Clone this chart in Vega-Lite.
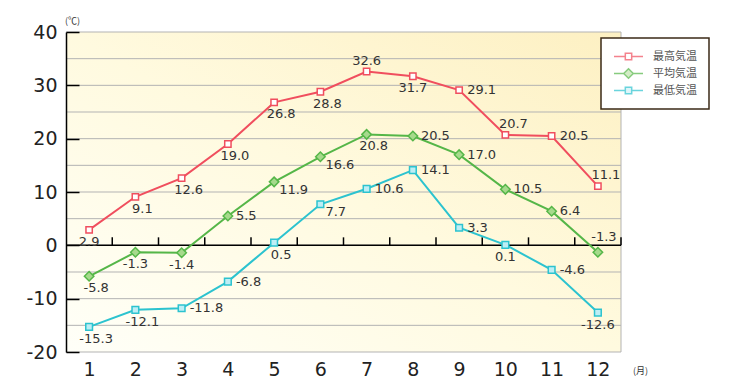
{
  "$schema": "https://vega.github.io/schema/vega-lite/v6.json",
  "width": 555,
  "height": 320,
  "autosize": {"type": "none"},
  "padding": {"left": 66, "top": 32, "right": 113, "bottom": 38},
  "background": "#ffffff",
  "config": {"view": {"stroke": null}, "legend": {"strokeWidth": 1.5}},
  "datasets": {
    "temps": [
      {"month": 1, "series": "最高気温", "temp": 2.9},
      {"month": 2, "series": "最高気温", "temp": 9.1},
      {"month": 3, "series": "最高気温", "temp": 12.6},
      {"month": 4, "series": "最高気温", "temp": 19.0},
      {"month": 5, "series": "最高気温", "temp": 26.8},
      {"month": 6, "series": "最高気温", "temp": 28.8},
      {"month": 7, "series": "最高気温", "temp": 32.6},
      {"month": 8, "series": "最高気温", "temp": 31.7},
      {"month": 9, "series": "最高気温", "temp": 29.1},
      {"month": 10, "series": "最高気温", "temp": 20.7},
      {"month": 11, "series": "最高気温", "temp": 20.5},
      {"month": 12, "series": "最高気温", "temp": 11.1},
      {"month": 1, "series": "平均気温", "temp": -5.8},
      {"month": 2, "series": "平均気温", "temp": -1.3},
      {"month": 3, "series": "平均気温", "temp": -1.4},
      {"month": 4, "series": "平均気温", "temp": 5.5},
      {"month": 5, "series": "平均気温", "temp": 11.9},
      {"month": 6, "series": "平均気温", "temp": 16.6},
      {"month": 7, "series": "平均気温", "temp": 20.8},
      {"month": 8, "series": "平均気温", "temp": 20.5},
      {"month": 9, "series": "平均気温", "temp": 17.0},
      {"month": 10, "series": "平均気温", "temp": 10.5},
      {"month": 11, "series": "平均気温", "temp": 6.4},
      {"month": 12, "series": "平均気温", "temp": -1.3},
      {"month": 1, "series": "最低気温", "temp": -15.3},
      {"month": 2, "series": "最低気温", "temp": -12.1},
      {"month": 3, "series": "最低気温", "temp": -11.8},
      {"month": 4, "series": "最低気温", "temp": -6.8},
      {"month": 5, "series": "最低気温", "temp": 0.5},
      {"month": 6, "series": "最低気温", "temp": 7.7},
      {"month": 7, "series": "最低気温", "temp": 10.6},
      {"month": 8, "series": "最低気温", "temp": 14.1},
      {"month": 9, "series": "最低気温", "temp": 3.3},
      {"month": 10, "series": "最低気温", "temp": 0.1},
      {"month": 11, "series": "最低気温", "temp": -4.6},
      {"month": 12, "series": "最低気温", "temp": -12.6}
    ],
    "grid": [
      {"v": -20}, {"v": -15}, {"v": -10}, {"v": -5}, {"v": 0}, {"v": 5}, {"v": 10},
      {"v": 15}, {"v": 20}, {"v": 25}, {"v": 30}, {"v": 35}, {"v": 40}
    ],
    "monthTicks": [
      {"m": 1.5}, {"m": 2.5}, {"m": 3.5}, {"m": 4.5}, {"m": 5.5}, {"m": 6.5},
      {"m": 7.5}, {"m": 8.5}, {"m": 9.5}, {"m": 10.5}, {"m": 11.5}, {"m": 12.5}
    ]
  },
  "data": {"name": "temps"},
  "layer": [
    {
      "data": {"values": [{}]},
      "mark": {
        "type": "rect",
        "fill": {
          "gradient": "linear", "x1": 0, "y1": 1, "x2": 1, "y2": 0,
          "stops": [
            {"offset": 0, "color": "#fffff8"},
            {"offset": 0.5, "color": "#fffadf"},
            {"offset": 1, "color": "#fdf0c2"}
          ]
        }
      },
      "encoding": {
        "x": {"datum": 0.5, "type": "quantitative"},
        "x2": {"datum": 12.5},
        "y": {"datum": -20, "type": "quantitative"},
        "y2": {"datum": 40}
      }
    },
    {
      "data": {"name": "grid"},
      "mark": {"type": "rule", "color": "#b3b3b3", "strokeWidth": 1},
      "encoding": {"y": {"field": "v", "type": "quantitative"}}
    },
    {
      "data": {"values": [{}]},
      "mark": {"type": "rule", "color": "#b3b3b3", "strokeWidth": 1},
      "encoding": {"x": {"datum": 12.5, "type": "quantitative"}}
    },
    {
      "data": {"values": [{}]},
      "mark": {"type": "rule", "color": "#000000", "strokeWidth": 1.5},
      "encoding": {"y": {"datum": 0, "type": "quantitative"}}
    },
    {
      "data": {"name": "monthTicks"},
      "mark": {"type": "tick", "orient": "vertical", "color": "#000000", "size": 8, "thickness": 1.5, "opacity": 1},
      "encoding": {
        "x": {"field": "m", "type": "quantitative"},
        "y": {"datum": 0.75, "type": "quantitative"}
      }
    },
    {
      "mark": {"type": "line", "strokeWidth": 2},
      "encoding": {
        "x": {
          "field": "month", "type": "quantitative",
          "scale": {"domain": [0.5, 12.5], "nice": false, "zero": false},
          "axis": {
            "values": [1, 2, 3, 4, 5, 6, 7, 8, 9, 10, 11, 12],
            "domain": false, "ticks": false, "grid": false,
            "labelFont": "DejaVu Sans", "labelFontSize": 19, "labelColor": "#222222",
            "labelPadding": 8, "labelFlush": false, "labelOverlap": false,
            "title": "(月)", "titleX": 574, "titleY": 18, "titleFont": "Noto Sans CJK JP",
            "titleFontSize": 9, "titleFontWeight": "normal", "titleColor": "#333333",
            "titleAlign": "center", "titleBaseline": "middle", "zindex": 1
          }
        },
        "y": {
          "field": "temp", "type": "quantitative",
          "scale": {"domain": [-20, 40], "nice": false, "zero": false},
          "axis": {
            "values": [-20, -15, -10, -5, 0, 5, 10, 15, 20, 25, 30, 35, 40],
            "grid": false, "domain": true, "domainColor": "#000000", "domainWidth": 1.5,
            "ticks": true, "tickColor": "#000000", "tickWidth": 1.5, "tickSize": -13,
            "labelPadding": 22, "labelFont": "DejaVu Sans", "labelFontSize": 19,
            "labelColor": "#222222", "labelFlush": false, "labelOverlap": false,
            "labelExpr": "datum.value % 10 === 0 ? replace(datum.label, '\u2212', '-') : ''",
            "title": "(℃)", "titleAngle": 0, "titleX": 6, "titleY": -12,
            "titleFont": "Noto Sans CJK JP", "titleFontSize": 9, "titleFontWeight": "normal",
            "titleColor": "#333333", "titleAlign": "center", "titleBaseline": "middle",
            "zindex": 1
          }
        },
        "stroke": {
          "field": "series", "type": "nominal",
          "scale": {"domain": ["最高気温", "平均気温", "最低気温"], "range": ["#f04e5e", "#55b648", "#2cc3cf"]},
          "legend": null
        }
      }
    },
    {
      "mark": {"type": "point", "filled": true, "strokeWidth": 1.5, "opacity": 1},
      "encoding": {
        "x": {"field": "month", "type": "quantitative"},
        "y": {"field": "temp", "type": "quantitative"},
        "shape": {
          "field": "series", "type": "nominal",
          "scale": {"domain": ["最高気温", "平均気温", "最低気温"], "range": ["square", "diamond", "square"]},
          "legend": null
        },
        "size": {
          "field": "series", "type": "nominal",
          "scale": {"type": "ordinal", "domain": ["最高気温", "平均気温", "最低気温"], "range": [40, 90, 45]},
          "legend": null
        },
        "stroke": {
          "field": "series", "type": "nominal",
          "scale": {"domain": ["最高気温", "平均気温", "最低気温"], "range": ["#f04e5e", "#55b648", "#2cc3cf"]},
          "legend": null
        },
        "fill": {
          "field": "series", "type": "nominal",
          "scale": {"domain": ["最高気温", "平均気温", "最低気温"], "range": ["#ffffff", "#a6da8c", "#bdeef5"]},
          "legend": null
        }
      }
    },
    {
      "transform": [{"filter": "datum.month === 1"}],
      "mark": {"type": "point", "filled": true, "strokeWidth": 1.5, "clip": true},
      "encoding": {
        "x": {"datum": -3, "type": "quantitative"},
        "y": {"field": "temp", "type": "quantitative"},
        "shape": {
          "field": "series", "type": "nominal",
          "scale": {
            "domain": ["最高気温", "平均気温", "最低気温"],
            "range": [
              "M-1,0L-0.22,0M0.22,0L1,0M-0.22,-0.22L0.22,-0.22L0.22,0.22L-0.22,0.22Z",
              "M-1,0L-0.33,0M0.33,0L1,0M0,-0.33L0.33,0L0,0.33L-0.33,0Z",
              "M-1,0L-0.22,0M0.22,0L1,0M-0.22,-0.22L0.22,-0.22L0.22,0.22L-0.22,0.22Z"
            ]
          },
          "legend": {
            "orient": "none", "legendX": 535, "legendY": 6, "direction": "vertical",
            "title": null, "padding": 12, "strokeColor": "#3b2a17", "fillColor": "#ffffff",
            "symbolSize": 841, "symbolStrokeWidth": 1.5, "clipHeight": 13, "rowPadding": 4,
            "labelOffset": 9, "labelFont": "Noto Sans CJK JP", "labelFontSize": 11,
            "labelColor": "#555555"
          }
        },
        "stroke": {
          "field": "series", "type": "nominal",
          "scale": {"domain": ["最高気温", "平均気温", "最低気温"], "range": ["#f04e5e", "#55b648", "#2cc3cf"]}
        },
        "fill": {
          "field": "series", "type": "nominal",
          "scale": {"domain": ["最高気温", "平均気温", "最低気温"], "range": ["#ffffff", "#a6da8c", "#bdeef5"]}
        }
      }
    },
    {
      "transform": [
        {"calculate": "replace(format(datum.temp, '.1f'), '\u2212', '-')", "as": "label"},
        {"filter": "(datum.series === '最高気温' && indexof([1, 8], datum.month) >= 0) || (datum.series === '平均気温' && indexof([2, 3], datum.month) >= 0) || (datum.series === '最低気温' && indexof([10, 12], datum.month) >= 0)"}
      ],
      "mark": {"type": "text", "font": "DejaVu Sans", "fontSize": 13, "color": "#333333", "align": "center", "baseline": "middle", "dx": 0, "dy": 12},
      "encoding": {
        "x": {"field": "month", "type": "quantitative"},
        "y": {"field": "temp", "type": "quantitative"},
        "text": {"field": "label", "type": "nominal"}
      }
    },
    {
      "transform": [
        {"calculate": "replace(format(datum.temp, '.1f'), '\u2212', '-')", "as": "label"},
        {"filter": "(datum.series === '最高気温' && indexof([2, 3, 4, 5, 6], datum.month) >= 0) || (datum.series === '平均気温' && indexof([1, 7], datum.month) >= 0) || (datum.series === '最低気温' && indexof([1, 2, 5], datum.month) >= 0)"}
      ],
      "mark": {"type": "text", "font": "DejaVu Sans", "fontSize": 13, "color": "#333333", "align": "center", "baseline": "middle", "dx": 7, "dy": 12},
      "encoding": {
        "x": {"field": "month", "type": "quantitative"},
        "y": {"field": "temp", "type": "quantitative"},
        "text": {"field": "label", "type": "nominal"}
      }
    },
    {
      "transform": [
        {"calculate": "replace(format(datum.temp, '.1f'), '\u2212', '-')", "as": "label"},
        {"filter": "(datum.series === '最高気温' && indexof([9, 11], datum.month) >= 0) || (datum.series === '平均気温' && indexof([4, 8, 9, 10, 11], datum.month) >= 0) || (datum.series === '最低気温' && indexof([3, 4, 7, 8, 9, 11], datum.month) >= 0)"}
      ],
      "mark": {"type": "text", "font": "DejaVu Sans", "fontSize": 13, "color": "#333333", "align": "left", "baseline": "middle", "dx": 8, "dy": 0},
      "encoding": {
        "x": {"field": "month", "type": "quantitative"},
        "y": {"field": "temp", "type": "quantitative"},
        "text": {"field": "label", "type": "nominal"}
      }
    },
    {
      "transform": [
        {"calculate": "replace(format(datum.temp, '.1f'), '\u2212', '-')", "as": "label"},
        {"filter": "(datum.series === '平均気温' && indexof([5, 6], datum.month) >= 0) || (datum.series === '最低気温' && datum.month === 6)"}
      ],
      "mark": {"type": "text", "font": "DejaVu Sans", "fontSize": 13, "color": "#333333", "align": "left", "baseline": "middle", "dx": 5, "dy": 8},
      "encoding": {
        "x": {"field": "month", "type": "quantitative"},
        "y": {"field": "temp", "type": "quantitative"},
        "text": {"field": "label", "type": "nominal"}
      }
    },
    {
      "transform": [
        {"calculate": "replace(format(datum.temp, '.1f'), '\u2212', '-')", "as": "label"},
        {"filter": "datum.series === '最高気温' && datum.month === 7"}
      ],
      "mark": {"type": "text", "font": "DejaVu Sans", "fontSize": 13, "color": "#333333", "align": "center", "baseline": "middle", "dx": 0, "dy": -10},
      "encoding": {
        "x": {"field": "month", "type": "quantitative"},
        "y": {"field": "temp", "type": "quantitative"},
        "text": {"field": "label", "type": "nominal"}
      }
    },
    {
      "transform": [
        {"calculate": "replace(format(datum.temp, '.1f'), '\u2212', '-')", "as": "label"},
        {"filter": "datum.series === '最高気温' && indexof([10, 12], datum.month) >= 0"}
      ],
      "mark": {"type": "text", "font": "DejaVu Sans", "fontSize": 13, "color": "#333333", "align": "center", "baseline": "middle", "dx": 8, "dy": -11},
      "encoding": {
        "x": {"field": "month", "type": "quantitative"},
        "y": {"field": "temp", "type": "quantitative"},
        "text": {"field": "label", "type": "nominal"}
      }
    },
    {
      "transform": [
        {"calculate": "replace(format(datum.temp, '.1f'), '\u2212', '-')", "as": "label"},
        {"filter": "datum.series === '平均気温' && datum.month === 12"}
      ],
      "mark": {"type": "text", "font": "DejaVu Sans", "fontSize": 13, "color": "#333333", "align": "center", "baseline": "middle", "dx": 6, "dy": -15},
      "encoding": {
        "x": {"field": "month", "type": "quantitative"},
        "y": {"field": "temp", "type": "quantitative"},
        "text": {"field": "label", "type": "nominal"}
      }
    }
  ],
  "resolve": {"scale": {"stroke": "independent", "fill": "independent", "shape": "independent", "size": "independent"}}
}
